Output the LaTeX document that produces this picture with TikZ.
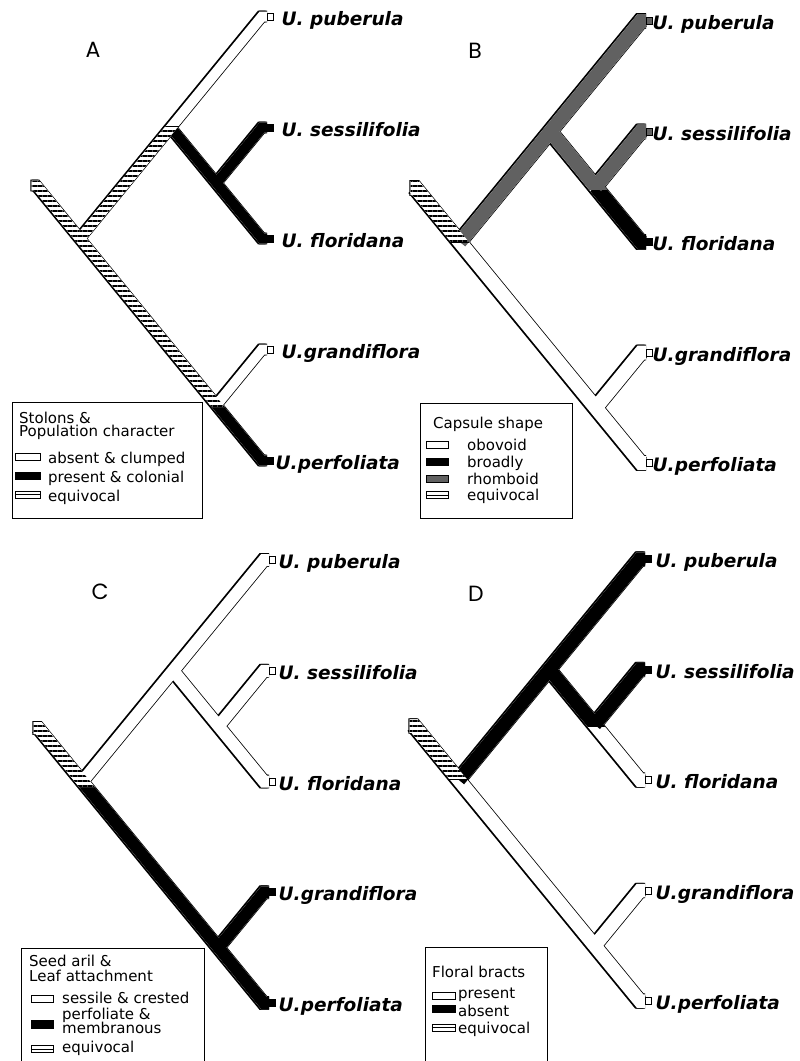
\documentclass[tikz,border=0pt]{standalone}
\usepackage{fontspec}
\setmainfont{DejaVu Sans}
\newfontfamily\panelfont{Poppins}
\usetikzlibrary{calc,patterns.meta}

\colorlet{rhombgray}{black!62}
% slope of the branches
\newcommand\bandsl{1.22}
% band width of the current tree: full width, half width, half horizontal cross-section
\newcommand\setband[1]{%
  \pgfmathsetmacro\bandw{#1}%
  \pgfmathsetmacro\bandhh{#1/2}%
  \pgfmathsetmacro\bandhw{(#1/2)*sqrt(1+\bandsl*\bandsl)/\bandsl}%
  \pgfmathsetmacro\bandwo{#1+1.6}}

\tikzset{
  band/.style={line width=\bandw pt, line join=miter, line cap=butt},
  bandline/.style={line width=\bandwo pt, line join=miter, line cap=butt},
  hatchfill/.style={pattern={Lines[angle=0,distance=5pt,line width=1.3pt]}},
  tipbox/.style={draw, line width=0.7pt, minimum width=6pt, minimum height=7pt,
                 inner sep=0pt, anchor=west},
  taxon/.style={anchor=base west, inner sep=0pt,
                font=\fontsize{18.5}{20}\selectfont\bfseries\itshape},
  letter/.style={inner sep=0pt, font=\panelfont\fontsize{22}{24}\selectfont},
  legtext/.style={anchor=base west, inner sep=0pt, font=\fontsize{15}{16}\selectfont},
  legbox/.style={draw, line width=0.8pt},
  swatch/.style={draw, line width=0.8pt, inner sep=0pt, minimum height=7pt},
  equiv/.style={swatch, fill=white, path picture={
      \draw[line width=0.8pt] (path picture bounding box.west) -- (path picture bounding box.east);}}
}

% centre lines of the five-taxon tree
\newcommand\skel[2]{%
  ([#2]#1-ste) -- ([#2]#1-stc) -- ([#2]#1-root) -- ([#2]#1-nGR) -- ([#2]#1-Rc) -- ([#2]#1-R)
  ([#2]#1-nGR) -- ([#2]#1-Gc) -- ([#2]#1-G)
  ([#2]#1-root) -- ([#2]#1-nPSF) -- ([#2]#1-Pc) -- ([#2]#1-P)
  ([#2]#1-nPSF) -- ([#2]#1-nSF) -- ([#2]#1-Fc) -- ([#2]#1-F)
  ([#2]#1-nSF) -- ([#2]#1-Sc) -- ([#2]#1-S)}

% #1 prefix, #2 x of the branch tips, #3 y of the top tip, #4 tip spacing
\newcommand\cladetree[4]{%
  \pgfmathsetmacro\cxc{#2-5}%
  \pgfmathsetmacro\cxq{#4/(2*\bandsl)}%
  \pgfmathsetmacro\crx{\cxc-4*\cxq}%
  \pgfmathsetmacro\cry{#3+2*#4}%
  \pgfmathsetmacro\csx{\cxc-275/\bandsl}%
  \pgfmathsetmacro\csy{#3+4*#4-275}%
  \pgfmathsetmacro\cfy{#3+1.5*#4}%
  \coordinate (#1-P) at (#2,#3);
  \coordinate (#1-Pc) at (\cxc,#3);
  \coordinate (#1-S) at (#2,#3+#4);
  \coordinate (#1-Sc) at (\cxc,#3+#4);
  \coordinate (#1-F) at (#2,#3+2*#4);
  \coordinate (#1-Fc) at (\cxc,#3+2*#4);
  \coordinate (#1-G) at (#2,#3+3*#4);
  \coordinate (#1-Gc) at (\cxc,#3+3*#4);
  \coordinate (#1-R) at (#2,#3+4*#4);
  \coordinate (#1-Rc) at (\cxc,#3+4*#4);
  \coordinate (#1-nSF) at (\cxc-\cxq,#3+1.5*#4);
  \coordinate (#1-nPSF) at (\cxc-2*\cxq,#3+#4);
  \coordinate (#1-nGR) at (\cxc-\cxq,#3+3.5*#4);
  \coordinate (#1-root) at (\crx,\cry);
  \coordinate (#1-stc) at (\csx,\csy);
  \coordinate (#1-ste) at (\csx-5,\csy);
  \draw[bandline] \skel{#1}{xshift=0pt};
  \draw[bandline] \skel{#1}{xshift=-1.3pt};
  \draw[band,white] \skel{#1}{xshift=0pt};
}

% hatched stretch of the root line, from its free end down to y = #1
\newcommand\stubhatch[1]{%
  \pgfmathsetmacro\hatchx{\csx+(#1-\csy)/\bandsl}%
  \path[fill=white,postaction={hatchfill}]
    (\csx-5,\csy-\bandhh) -- (\csx-\bandhh/\bandsl+\bandhw,\csy-\bandhh) -- (\hatchx+\bandhw,#1)
    -- (\hatchx-\bandhw,#1) -- (\csx+\bandhh/\bandsl-\bandhw,\csy+\bandhh) -- (\csx-5,\csy+\bandhh) -- cycle;
}

% tip boxes and taxon names: #1 prefix, #2-#6 box fills, #7 name offset, #8 offset of the last name
\newcommand\taxa[8]{%
  \node[tipbox,fill=#2] (#1-bP) at (#1-P) {};
  \node[tipbox,fill=#3] (#1-bS) at (#1-S) {};
  \node[tipbox,fill=#4] (#1-bF) at (#1-F) {};
  \node[tipbox,fill=#5] (#1-bG) at (#1-G) {};
  \node[tipbox,fill=#6] (#1-bR) at (#1-R) {};
  \node[taxon] (#1-lP) at ($(#1-P)+(#7,8.5)$) {U. puberula};
  \node[taxon] (#1-lS) at ($(#1-S)+(#7,8.5)$) {U. sessilifolia};
  \node[taxon] (#1-lF) at ($(#1-F)+(#7,8.5)$) {U. floridana};
  \node[taxon] (#1-lG) at ($(#1-G)+(#7,8.5)$) {U.grandiflora};
  \node[taxon] (#1-lR) at ($(#1-R)+(#8,8.5)$) {U.perfoliata};
}

\begin{document}
\begin{tikzpicture}[x=1pt,y=-1pt]
\useasboundingbox (0,0) rectangle (800,1061);
\fill[white] (0,0) rectangle (800,1061);

% ---------------- A: stolons & population character ----------------
\setband{10}
\cladetree{A}{267}{16.5}{111}
\begin{scope}
  \clip (0,407) rectangle (400,560);
  \draw[band] (A-root) -- (A-nGR) -- (A-Rc) -- (A-R);
\end{scope}
\begin{scope}
  \clip (0,126) rectangle (400,300);
  \draw[band] (A-nPSF) -- (A-nSF) -- (A-Fc) -- (A-F);
\end{scope}
\draw[band] (A-nSF) -- (A-Sc) -- (A-S);
\stubhatch{407}
\pgfmathsetmacro\upx{\crx+(\cry-126)/\bandsl}
\path[fill=white,postaction={hatchfill}]
  (\upx-\bandhw,126) -- (\upx+\bandhw,126) -- (\crx+\bandhw,\cry) -- (\crx-\bandhw,\cry) -- cycle;
\draw[line width=1pt] (\upx-\bandhw,126) -- (\upx+\bandhw,126);
\taxa{A}{white}{black}{black}{white}{black}{14.5}{8.5}
\node[letter] (A-tag) at (93,50) {A};

\draw[legbox] (12,402) rectangle (202,518);
\node[legtext] (A-h1) at (19,423) {Stolons \&};
\node[legtext] (A-h2) at (19,436) {Population character};
\node[swatch,fill=white,minimum width=25pt] (A-s1) at (27.5,456.5) {};
\node[legtext] (A-i1) at (48,463) {absent \& clumped};
\node[swatch,fill=black,minimum width=25pt] (A-s2) at (27.5,475.5) {};
\node[legtext] (A-i2) at (48,482) {present \& colonial};
\node[equiv,minimum width=25pt] (A-s3) at (27.5,494.5) {};
\node[legtext] (A-i3) at (48,501.5) {equivocal};

% ---------------- B: capsule shape ----------------
\setband{14}
\cladetree{B}{646}{21}{110.5}
\draw[band] (B-nSF) -- (B-Fc) -- (B-F);
\begin{scope}
  \clip (400,0) rectangle (800,\cfy+3);
  \draw[band,rhombgray] (B-nPSF) -- (B-nSF) -- (B-Fc);
\end{scope}
\draw[band,rhombgray] (B-root) -- (B-nPSF) -- (B-Pc) -- (B-P) (B-nSF) -- (B-Sc) -- (B-S);
\stubhatch{\cry}
\draw[line width=1pt] (\hatchx-\bandhw,\cry) -- (\hatchx+\bandhw,\cry);
\taxa{B}{rhombgray}{rhombgray}{black}{white}{white}{6.5}{6.5}
\node[letter] (B-tag) at (475,51) {B};

\draw[legbox] (420,403) rectangle (572,518);
\node[legtext] (B-h1) at (433,428) {Capsule shape};
\node[swatch,fill=white,minimum width=22pt] (B-s1) at (437,445) {};
\node[legtext] (B-i1) at (467,450) {obovoid};
\node[swatch,fill=black,minimum width=22pt] (B-s2) at (437,461.5) {};
\node[legtext] (B-i2) at (467,467) {broadly};
\node[swatch,fill=rhombgray,minimum width=22pt] (B-s3) at (437,478.5) {};
\node[legtext] (B-i3) at (467,484) {rhomboid};
\node[equiv,minimum width=22pt] (B-s4) at (437,495) {};
\node[legtext] (B-i4) at (467,500) {equivocal};

% ---------------- C: seed aril & leaf attachment ----------------
\setband{12}
\cladetree{C}{269}{560}{110.75}
\begin{scope}
  \clip (0,787) rectangle (400,1061);
  \draw[band] (C-root) -- (C-nGR) -- (C-Rc) -- (C-R) (C-nGR) -- (C-Gc) -- (C-G);
\end{scope}
\stubhatch{787}
\taxa{C}{white}{white}{white}{black}{black}{9.5}{9.5}
\node[letter] (C-tag) at (100,591.5) {C};

\draw[legbox] (21,948) rectangle (204,1070);
\node[legtext] (C-h1) at (29,966) {Seed aril \&};
\node[legtext] (C-h2) at (29,981) {Leaf attachment};
\node[swatch,fill=white,minimum width=22pt] (C-s1) at (42,999) {};
\node[legtext] (C-i1) at (62,1003) {sessile \& crested};
\node[swatch,fill=black,minimum width=22pt,minimum height=8pt] (C-s2) at (42,1024) {};
\node[legtext] (C-i2) at (62,1019) {perfoliate \&};
\node[legtext] (C-i2b) at (62,1033) {membranous};
\node[equiv,minimum width=22pt] (C-s3) at (42,1049) {};
\node[legtext] (C-i3) at (62,1052) {equivocal};

% ---------------- D: floral bracts ----------------
\setband{13.5}
\cladetree{D}{645}{559}{110.5}
\draw[band] (D-root) -- (D-nPSF) -- (D-Pc) -- (D-P) (D-nSF) -- (D-Sc) -- (D-S);
\begin{scope}
  \clip (400,500) rectangle (800,\cfy+2);
  \draw[band] (D-nPSF) -- (D-nSF) -- (D-Fc);
\end{scope}
\stubhatch{779}
\draw[line width=1pt] (\hatchx-\bandhw,779) -- (\hatchx+\bandhw,779);
\taxa{D}{black}{black}{white}{white}{white}{10.5}{10.5}
\node[letter] (D-tag) at (476,593.5) {D};

\draw[legbox] (425,947) rectangle (547,1070);
\node[legtext] (D-h1) at (432,977) {Floral bracts};
\node[swatch,fill=white,minimum width=23pt] (D-s1) at (443.5,995.5) {};
\node[legtext] (D-i1) at (458,998) {present};
\node[swatch,fill=black,minimum width=23pt] (D-s2) at (443.5,1009) {};
\node[legtext] (D-i2) at (458,1016) {absent};
\node[equiv,minimum width=23pt] (D-s3) at (443.5,1027.5) {};
\node[legtext] (D-i3) at (458,1033) {equivocal};
\end{tikzpicture}
\end{document}
